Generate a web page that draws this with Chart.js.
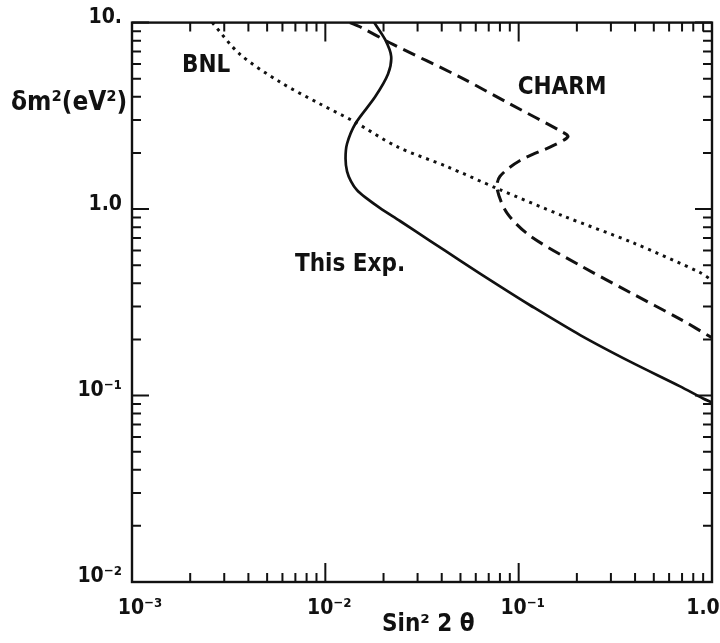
<!DOCTYPE html>
<html><head><meta charset="utf-8">
<script src="https://cdn.jsdelivr.net/npm/chart.js@4/dist/chart.umd.min.js"></script>
<style>html,body{margin:0;padding:0;background:#fff;} canvas{display:block;}</style>
</head><body>
<canvas id="c" width="720" height="643"></canvas>
<script>
// ---- data ----
const thisExpX = [0.0179, 0.0204, 0.0219, 0.0211, 0.0181, 0.0143, 0.01295, 0.01272, 0.01295, 0.01358, 0.01458, 0.01604, 0.0192, 0.02434, 0.0348, 0.0498, 0.0801, 0.1146, 0.208, 0.377, 0.684, 0.899, 1.0];
const thisExpY = [10, 8.1, 6.6, 5.3, 4.0, 2.87, 2.24, 1.867, 1.593, 1.409, 1.262, 1.158, 1.012, 0.863, 0.676, 0.529, 0.385, 0.305, 0.211, 0.152, 0.112, 0.0964, 0.0918];
const charmX = [0.0134, 0.0151, 0.0224, 0.0498, 0.0902, 0.1637, 0.180, 0.1506, 0.1017, 0.0801, 0.0773, 0.0871, 0.1146, 0.208, 0.377, 0.684, 1.0];
const charmY = [10, 9.5, 7.64, 5.10, 3.66, 2.63, 2.45, 2.19, 1.82, 1.50, 1.29, 0.952, 0.718, 0.498, 0.357, 0.257, 0.204];
const bnlX = [0.0026, 0.00362, 0.00583, 0.0094, 0.0139, 0.0235, 0.0426, 0.0773, 0.170, 0.391, 0.867, 1.0];
const bnlY = [10, 6.76, 4.80, 3.66, 2.97, 2.16, 1.69, 1.29, 0.918, 0.659, 0.457, 0.414];
const xTickValues = [0.001, 0.01, 0.1, 1];
const xTickLabels = ['10\u207B\u00B3', '10\u207B\u00B2', '10\u207B\u00B9', '1.0'];
const yTickValues = [0.01, 0.1, 1, 10];
const yTickLabels = ['10\u207B\u00B2', '10\u207B\u00B9', '1.0', '10.'];
const seriesNames = ['This Exp.', 'CHARM', 'BNL'];
const xTitle = 'Sin\u00B2 2 \u03B8';
const yTitle = '\u03B4m\u00B2(eV\u00B2)';

// ---- presentation ----
const FONT = '"DejaVu Sans Condensed", "DejaVu Sans", sans-serif';
const INK = '#111';
const xLabelShift = [8, 4, 4, -9];
const curveLabelPos = [[0.01342, 0.50], [0.1676, 4.46], [0.00242, 5.9]];

function pts(xs, ys) { return xs.map((x, i) => ({x: x, y: ys[i]})); }

const overlay = {
  id: 'overlay',
  afterDatasetsDraw(chart) {
    const ctx = chart.ctx, a = chart.chartArea;
    const xs = chart.scales.x, ys = chart.scales.y;
    ctx.save();
    ctx.strokeStyle = INK; ctx.fillStyle = INK;
    // frame
    ctx.lineWidth = 2.4;
    ctx.strokeRect(a.left, a.top, a.right - a.left, a.bottom - a.top);
    // ticks
    ctx.lineWidth = 2;
    function decadeTicks(min, max, cb) {
      for (let d = Math.round(Math.log10(min)); d < Math.round(Math.log10(max)); d++) {
        for (let m = 2; m <= 9; m++) cb(m * Math.pow(10, d), false);
      }
      for (let d = Math.round(Math.log10(min)); d <= Math.round(Math.log10(max)); d++) cb(Math.pow(10, d), true);
    }
    decadeTicks(xs.min, xs.max, (v, major) => {
      const px = xs.getPixelForValue(v);
      const L = major ? 19 : 9;
      ctx.beginPath();
      ctx.moveTo(px, a.bottom); ctx.lineTo(px, a.bottom - L);
      ctx.moveTo(px, a.top); ctx.lineTo(px, a.top + L);
      ctx.stroke();
    });
    decadeTicks(ys.min, ys.max, (v, major) => {
      const py = ys.getPixelForValue(v);
      const L = major ? 17 : 9;
      ctx.beginPath();
      ctx.moveTo(a.left, py); ctx.lineTo(a.left + L, py);
      ctx.moveTo(a.right, py); ctx.lineTo(a.right - L, py);
      ctx.stroke();
    });
    // x tick labels
    ctx.font = 'bold 21px ' + FONT;
    ctx.textAlign = 'center'; ctx.textBaseline = 'alphabetic';
    xTickValues.forEach((v, i) => {
      ctx.fillText(xTickLabels[i], xs.getPixelForValue(v) + xLabelShift[i], 614);
    });
    // axis titles
    ctx.font = 'bold 24px ' + FONT;
    ctx.textAlign = 'left';
    ctx.fillText(xTitle, 382, 631);
    ctx.font = 'bold 26px ' + FONT;
    ctx.textBaseline = 'middle';
    ctx.fillText(yTitle, 11, 103);
    // curve names
    ctx.font = 'bold 24px ' + FONT;
    ctx.textAlign = 'center';
    seriesNames.forEach((n, i) => {
      const p = curveLabelPos[i];
      ctx.fillText(n, xs.getPixelForValue(p[0]), ys.getPixelForValue(p[1]));
    });
    ctx.restore();
  }
};

new Chart(document.getElementById('c'), {
  type: 'scatter',
  data: {
    datasets: [
      {label: seriesNames[0], data: pts(thisExpX, thisExpY), showLine: true, borderColor: INK, borderWidth: 2.7, pointRadius: 0, tension: 0.3},
      {label: seriesNames[1], data: pts(charmX, charmY), showLine: true, borderColor: INK, borderWidth: 3, borderDash: [13, 7], pointRadius: 0, tension: 0.3},
      {label: seriesNames[2], data: pts(bnlX, bnlY), showLine: true, borderColor: INK, borderWidth: 3, borderDash: [3, 5], pointRadius: 0, tension: 0.3}
    ]
  },
  options: {
    responsive: false,
    animation: false,
    events: [],
    layout: {padding: {left: 0, top: 18, right: 8, bottom: 0}},
    plugins: {legend: {display: false}, tooltip: {enabled: false}},
    scales: {
      x: {
        type: 'logarithmic', min: 0.001, max: 1,
        grid: {display: false}, border: {display: false},
        ticks: {display: false},
        afterBuildTicks: s => { s.ticks = xTickValues.map(v => ({value: v})); },
        afterFit: s => { s.height = 61; }
      },
      y: {
        type: 'logarithmic', min: 0.01, max: 10,
        grid: {display: false, drawTicks: false}, border: {display: false},
        ticks: {
          color: INK, font: {family: FONT, size: 21, weight: 'bold'}, padding: 10, labelOffset: -5, autoSkip: false,
          callback: (v, i) => yTickLabels[i]
        },
        afterBuildTicks: s => { s.ticks = yTickValues.map(v => ({value: v})); },
        afterFit: s => { s.width = 132; }
      }
    }
  },
  plugins: [overlay]
});
</script>
</body></html>
